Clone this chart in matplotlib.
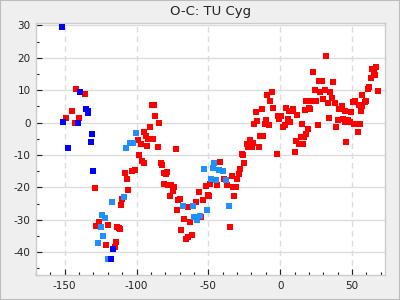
import matplotlib
matplotlib.use("Agg")
import matplotlib.pyplot as plt
from matplotlib.ticker import MultipleLocator
from matplotlib.patches import Rectangle

plt.rcParams['axes.unicode_minus'] = False

# O-C values (epoch offset, days*1e3 style units)
red_x = [-142.4, -136.1, -145.1, -149.3, -140.3, -143.0,
         -99.3, -97.0, -94.6, -93.7, -91.7, -90.3, -88.2, -92.4, -85.4, -89.3, -87.5, -86.8, -84.7, -72.4,
         -98.6, -96.5, -95.1, -83.3, -82.6, -108.3, -103.5, -101.4, -106.3, -81.2, -78.7, -79.2, -80.6,
         -77.8, -75.7, -73.6, -74.3, -76.4, -105.6, -110.1, -110.6, -70.8, -69.4, -63.9, -58.3, -56.3,
         -53.5, -51.4, -50.0, -71.5, -54.9, -66.7, -62.5, -68.8, -61.5, -63.9, -65.3, -111.3,
         -129.2, -126.4, -128.5, -119.7, -113.4, -112.5, -121.5, -114.6, -115.3,
         -9.0, -5.6, -6.9, -12.5, -4.9, -16.7, -16.0, -18.1, -9.7, -10.4, -7.6, -1.4, 0.4, -1.0, 4.3,
         6.2, 7.8, 9.0, 5.6, 7.0, 2.0, 3.4, 11.9, 10.4, -2.0,
         -20.8, -18.8, -23.1, -20.8, -19.4, -22.2, -13.9, -11.8, -14.6, -26.4, -25.7, -25.0, -27.8,
         -28.5, -29.9, -33.3, -41.7, -38.9, -48.6, -43.7, -36.8, -32.6, -31.0, -31.9, -49.3, -34.7,
         31.9, 22.9, 27.1, 29.2, 36.8, 24.3, 27.8, 31.2, 34.7, 29.9, 36.1, 18.1, 22.2, 25.0, 33.3,
         38.2, 17.4, 20.1, 20.8, 41.0, 43.1, 45.1, 49.3, 50.8, 52.2, 55.1, 56.9, 56.3, 59.0, 59.7,
         56.9, 61.1, 61.8, 63.2, 65.3, 66.0, 63.9, 66.7, 68.1, 15.2, 18.1, 16.7, 14.6, 11.1, 13.2,
         16.0, 19.4, 26.4, 34.0, 38.9, 40.3, 43.8, 47.3, 45.1, 48.9, 51.1, 55.3, 53.9, 45.8]
red_y = [10.5, 8.7, 3.7, 1.5, 1.5, 0.0,
         -5.5, -6.5, -2.8, -4.1, -5.0, -1.5, -5.2, -7.3, -7.7, 5.3, 5.3, 1.9, 0.0, -8.3,
         -9.9, -11.8, -12.4, -12.6, -13.0, -15.5, -14.9, -14.6, -17.3, -15.5, -15.2, -16.0, -18.9,
         -19.2, -19.2, -19.8, -21.1, -22.6, -20.7, -23.5, -25.4, -24.0, -23.5, -26.1, -24.5, -21.4,
         -23.8, -19.5, -22.5, -26.9, -29.1, -29.9, -30.7, -33.1, -34.7, -35.4, -35.9, -32.8,
         -20.1, -30.6, -31.8, -31.5, -32.4, -32.7, -37.7, -36.8, -38.3,
         8.5, 9.3, 6.5, 4.3, 4.6, 3.1, 0.6, -0.6, 0.9, -0.6, -0.9, 1.9, 1.9, 1.0, 4.6,
         3.7, 3.7, 4.3, 1.2, 0.3, -1.5, -0.9, 2.3, -9.0, -9.6,
         -5.3, -6.2, -6.6, -6.9, -7.7, -7.7, -4.3, -4.3, -7.7, -9.6, -10.0, -12.4, -14.2,
         -15.8, -17.3, -16.4, -12.1, -17.3, -18.9, -19.2, -19.2, -19.8, -19.8, -22.6, -22.6, -32.2,
         20.4, 15.5, 12.7, 12.7, 12.4, 9.9, 9.3, 9.9, 9.3, 7.4, 7.7, 6.5, 6.8, 6.5, 5.9,
         5.9, 4.0, 4.6, 4.3, 4.3, 5.0, 3.7, 3.1, 6.2, 6.5, 5.3, 5.0, 3.7, 6.2, 6.5,
         8.4, 10.5, 11.1, 13.6, 15.2, 14.6, 16.4, 17.0, 9.6, -0.3, -3.4, -4.6, -4.6, -5.6, -6.5,
         -6.5, -1.9, -0.9, 1.5, -1.5, 0.9, 1.2, 0.9, 0.3, 0.3, -0.3, -0.3, -2.8, -5.9]

light_x = [-107.6, -100.4, -104.4, -102.5, -52.8, -109.0, -67.4, -60.4, -50.7, -59.7, -57.6, -55.6,
           -117.4, -124.3, -122.2, -125.0, -123.6, -127.1, -120.1, -45.8, -46.5, -42.4, -39.6,
           -47.9, -44.4, -37.5, -35.3]
light_y = [-8.0, -3.1, -6.2, -6.2, -14.2, -22.9, -25.7, -25.7, -26.9, -29.1, -30.0, -28.8,
           -24.5, -28.5, -29.4, -32.2, -34.9, -37.2, -42.1, -12.4, -13.9, -14.6, -14.9,
           -17.3, -17.6, -17.6, -25.7]

blue_x = [-152.0, -139.6, -135.4, -133.5, -134.0, -151.4, -140.7, -131.0, -132.0, -147.9, -130.6,
          -116.7, -117.8]
blue_y = [29.6, 9.3, 4.3, 3.5, 3.0, 0.3, 0.0, -3.4, -5.9, -8.0, -14.9, -39.0, -42.1]

fig = plt.figure(figsize=(4, 3), dpi=100, facecolor='#efefef')
ax = fig.add_axes([0.09, 0.083, 0.8725, 0.84])
ax.set_facecolor('white')

ms = 4.4
ax.plot(red_x, red_y, 's', color='#ff0000', markersize=ms, markeredgewidth=0, zorder=3)
ax.plot(light_x, light_y, 's', color='#1e90ff', markersize=ms, markeredgewidth=0, zorder=3)
ax.plot(blue_x, blue_y, 's', color='#0000ff', markersize=ms, markeredgewidth=0, zorder=3)

ax.set_xlim(-170, 73)
ax.set_ylim(-47.1, 30.7)
ax.xaxis.set_major_locator(MultipleLocator(50))
ax.xaxis.set_minor_locator(MultipleLocator(10))
ax.yaxis.set_major_locator(MultipleLocator(10))
ax.yaxis.set_minor_locator(MultipleLocator(5))

ax.grid(True, which='major', axis='y', color='#dcdcdc', linewidth=1, linestyle='-')
ax.grid(True, which='major', axis='x', color='#dcdcdc', linewidth=1, linestyle=(0, (4, 3)))
ax.set_axisbelow(True)

ax.tick_params(which='both', direction='in', color='#222222', width=0.8,
               labelsize=7.5, labelcolor='#222222', top=False, right=False)
ax.tick_params(which='major', length=4, pad=4)
ax.tick_params(which='minor', length=2.5)
for s in ax.spines.values():
    s.set_color('#cccccc')
    s.set_linewidth(1)

ax.set_title('O-C: TU Cyg', fontsize=9.5, color='#222222', pad=6)

fig.patches.append(Rectangle((0, 0), 1, 1, transform=fig.transFigure, fill=False,
                             edgecolor='#bdbdbd', linewidth=1.5))

fig.savefig('out.png', dpi=100, facecolor=fig.get_facecolor())
